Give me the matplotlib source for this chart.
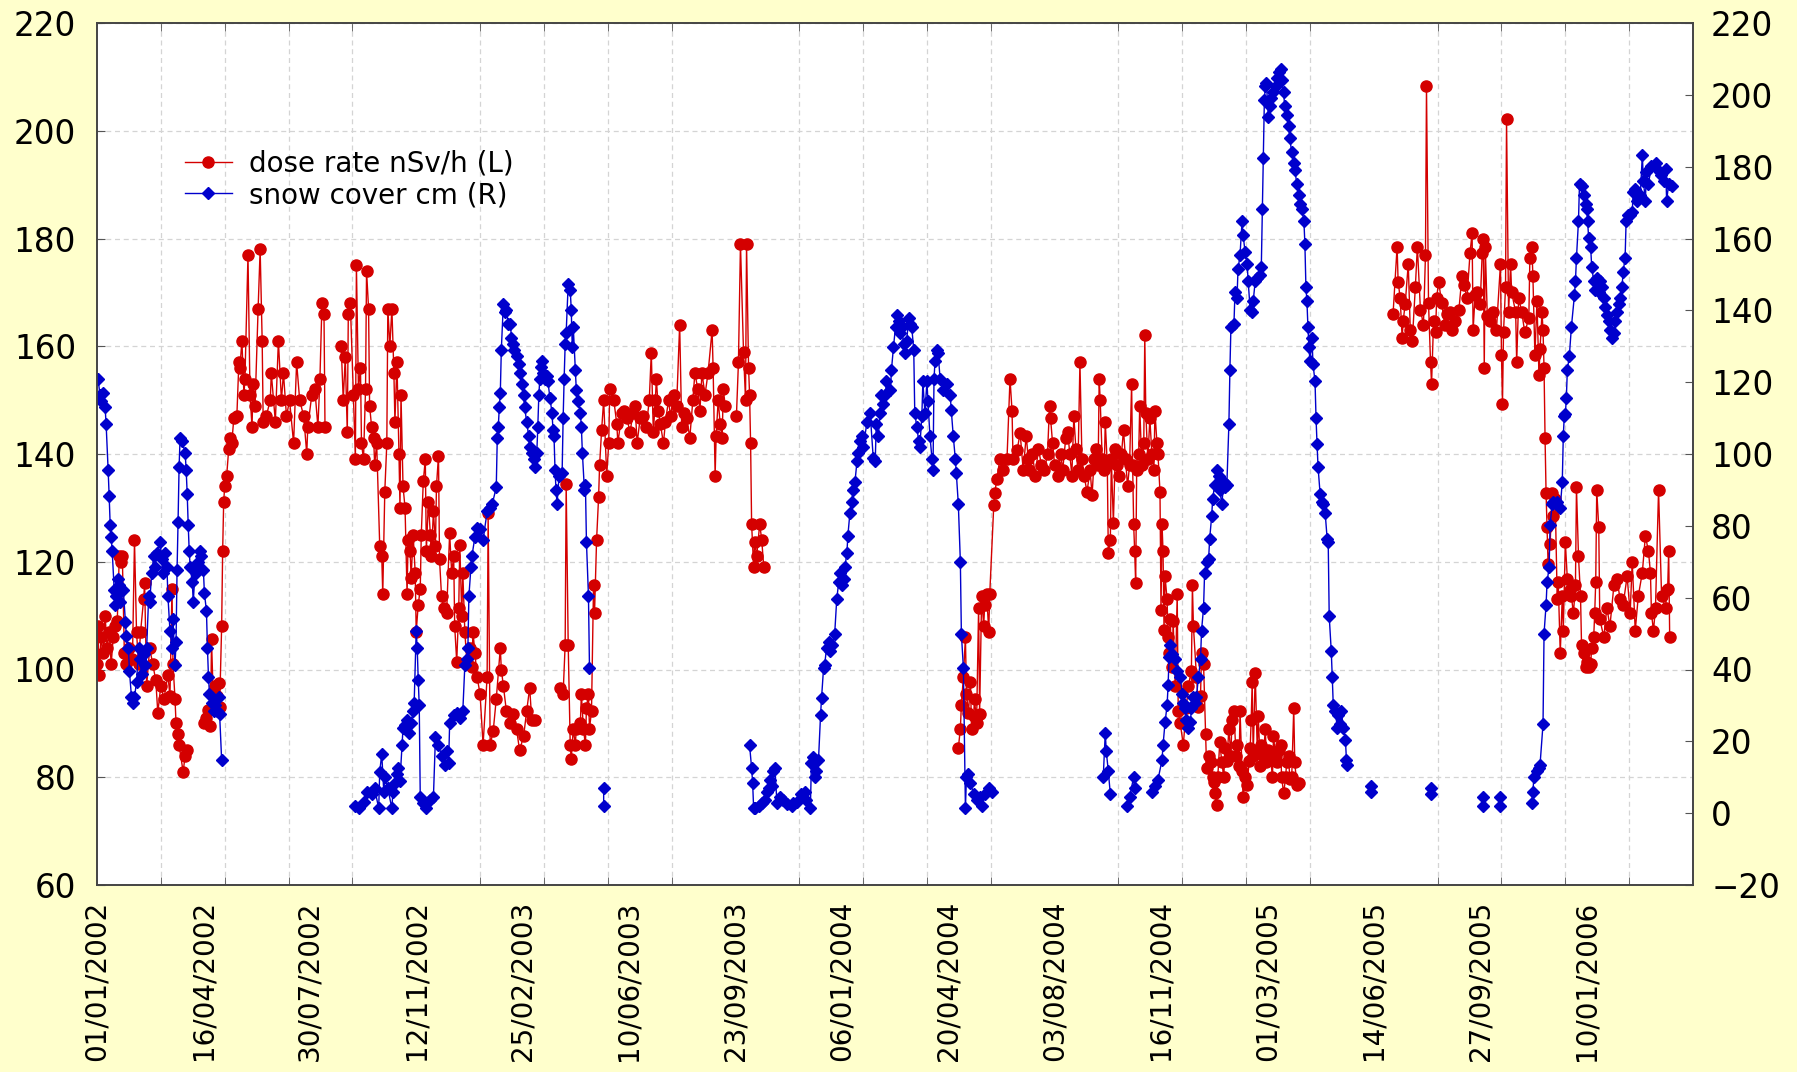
import numpy as np
import matplotlib
matplotlib.use("Agg")
import matplotlib.pyplot as plt
from matplotlib.ticker import FixedLocator

# x values are days counted from 01/01/2002
x_labels = ['01/01/2002', '16/04/2002', '30/07/2002', '12/11/2002', '25/02/2003',
            '10/06/2003', '23/09/2003', '06/01/2004', '20/04/2004', '03/08/2004',
            '16/11/2004', '01/03/2005', '14/06/2005', '27/09/2005', '10/01/2006']
x_label_step = 105
x_grid_step = 63
x_end = 1575

# dose rate nSv/h (left axis), (day, value)
dose_2002a = [(0, 101), (1, 108), (2, 99), (4, 106), (6, 103), (8, 110), (10, 104), (12, 107),
              (14, 101), (16, 106), (18, 108), (20, 109), (22, 121), (24, 120), (25, 121), (27, 103),
              (29, 101), (32, 104), (35, 102), (37, 124), (39, 107), (41, 101), (43, 107), (46, 113),
              (47, 116), (49, 97), (52, 104), (55, 101), (58, 98), (60, 92), (63, 97), (66, 94.5),
              (70, 99), (72, 95), (74, 115), (75, 101), (77, 94.5), (78, 90), (80, 88), (81, 86),
              (85, 81), (87, 84), (89, 85)]
dose_2002b = [(106, 90), (108, 91), (110, 92.5), (112, 89.5), (113, 105.6), (115, 93), (116, 97),
              (118, 95), (120, 97.5), (121, 93), (123, 108), (124, 122), (125, 131), (126, 134),
              (128, 136), (130, 141), (131, 143), (133, 142), (135, 146.6), (138, 147), (140, 157),
              (141, 156), (143, 161), (145, 151), (146, 154), (149, 177), (151, 151), (153, 145),
              (154, 153), (156, 149), (159, 167), (161, 178), (163, 161), (164, 146), (167, 147),
              (171, 150), (172, 155), (176, 146), (179, 161), (182, 150), (184, 155), (187, 147),
              (190, 150), (194, 142), (197, 157), (200, 150), (204, 147), (207, 140), (208, 145),
              (212, 151), (215, 152), (218, 145), (220, 154), (222, 168), (224, 166), (225, 145)]
dose_2002c = [(241, 160), (243, 150), (245, 158), (247, 144), (248, 166), (250, 168), (253, 151),
              (255, 139), (256, 175), (258, 152), (260, 156), (261, 142), (263, 139), (265, 152),
              (266, 174), (268, 167), (269, 149), (271, 145), (273, 143), (274, 138), (276, 142),
              (279, 123), (281, 121), (282, 114), (284, 133), (286, 142), (287, 167), (289, 160),
              (291, 167), (293, 155), (294, 146), (296, 157), (298, 140), (299, 130), (300, 151),
              (302, 134), (304, 130), (306, 114), (307, 124), (309, 122), (310, 117), (312, 125),
              (314, 118), (315, 107), (317, 112), (319, 115), (320, 125), (322, 135), (324, 139),
              (325, 122), (327, 131), (329, 125), (330, 121), (332, 129.5), (334, 123), (335, 134),
              (337, 139.7), (338, 120.5), (340, 113.6), (342, 111.5), (345, 110.4), (348, 125.3),
              (350, 118), (352, 121), (353, 108), (355, 101.4), (357, 111.5), (358, 123.2),
              (360, 110), (361, 118), (363, 107), (365, 101.4), (368, 104), (370, 100.4), (371, 107),
              (373, 103), (375, 98.7), (378, 95.5), (381, 86), (385, 98.7), (386, 129), (388, 86),
              (391, 88.6), (394, 94.5), (398, 104), (399, 100), (401, 97), (404, 92.3), (408, 90),
              (411, 91.8), (414, 89), (417, 85), (421, 87.6), (424, 92.3), (427, 96.6), (429, 90.7),
              (432, 90.7)]
dose_2003a = [(457, 96.6), (460, 95.5), (462, 104.6), (463, 134.4), (465, 104.6), (467, 86),
              (468, 83.4), (470, 89), (472, 86), (473, 89), (477, 90), (478, 95.5), (480, 89),
              (482, 86), (483, 92.9), (485, 95.5), (486, 89), (488, 92.3), (490, 115.7), (491, 110.5),
              (493, 124), (495, 132), (496, 138), (498, 144.5), (500, 150), (503, 136), (505, 142),
              (506, 152), (510, 150), (513, 145.5), (514, 142), (518, 147.7), (520, 148), (523, 146.6),
              (526, 144), (529, 147.7), (531, 149), (533, 142), (536, 146.6), (539, 147), (542, 145),
              (545, 150), (547, 158.8), (549, 144), (551, 150), (552, 154), (554, 148), (556, 145.5),
              (559, 142), (561, 146), (564, 150), (566, 147), (569, 151), (572, 149), (575, 164),
              (577, 145), (579, 147.7), (582, 146.6), (585, 143), (588, 150), (590, 155), (593, 152),
              (595, 148), (597, 155), (600, 151), (603, 155), (607, 163), (608, 156), (610, 136),
              (611, 143.4), (613, 150), (615, 145.5), (617, 143), (618, 152), (620, 149)]
dose_2003b = [(631, 147), (633, 157), (635, 179), (638, 159), (640, 150), (641, 179), (643, 156),
              (644, 151), (645, 142), (646, 127), (648, 119), (649, 123.7), (651, 121), (654, 127),
              (656, 124), (658, 119)]
dose_2004 = [(850, 85.4), (852, 89), (853, 93.4), (855, 98.7), (857, 106), (858, 95.5), (860, 92),
             (862, 97.7), (863, 89), (865, 91.3), (866, 94.5), (868, 90), (870, 111.5), (871, 91.8),
             (873, 113.6), (875, 108), (876, 112), (878, 114), (880, 107), (881, 114), (885, 130.6),
             (886, 132.8), (888, 135.4), (891, 139), (894, 137), (898, 139), (901, 154), (903, 148),
             (904, 139), (908, 140.7), (911, 143.9), (914, 137), (917, 143.4), (919, 139), (920, 137),
             (923, 140), (926, 136), (929, 141), (932, 138), (935, 137), (938, 140), (940, 149),
             (941, 146.6), (943, 142), (945, 138), (948, 136), (951, 140), (953, 137), (956, 143),
             (958, 144), (960, 140), (962, 136), (964, 147), (966, 141), (968, 137), (970, 157),
             (972, 139), (974, 136), (977, 133), (980, 137), (982, 132.3), (984, 139), (986, 141),
             (988, 138), (989, 154), (990, 150), (992, 139), (994, 137), (995, 146), (997, 138),
             (998, 121.6), (1000, 124), (1001, 139), (1003, 127.2), (1005, 141), (1007, 138),
             (1009, 136), (1011, 140), (1013, 144.5), (1015, 139), (1017, 134), (1019, 138),
             (1021, 153), (1022, 138), (1023, 127), (1024, 122), (1025, 116), (1026, 137),
             (1028, 140), (1029, 149), (1031, 138), (1033, 142), (1034, 162), (1035, 147.7),
             (1037, 139), (1039, 146.6), (1041, 140), (1043, 137), (1044, 148), (1046, 142),
             (1047, 140), (1049, 133), (1050, 111), (1051, 127), (1052, 122), (1053, 107.3),
             (1054, 117.3), (1056, 113), (1057, 106), (1058, 103), (1059, 109.4), (1061, 100.4),
             (1062, 109), (1064, 97), (1066, 114), (1067, 92.3), (1069, 90), (1072, 86), (1075, 92.9),
             (1077, 97), (1080, 99.8), (1081, 115.7), (1082, 108), (1085, 98.7), (1087, 93),
             (1089, 95), (1090, 103), (1092, 101), (1094, 88), (1095, 81.7), (1097, 84), (1099, 82.8),
             (1101, 80), (1102, 79.1), (1103, 77), (1105, 74.8), (1106, 80), (1108, 86.5),
             (1110, 82.8), (1112, 80), (1113, 85.4), (1115, 83), (1117, 89), (1119, 84), (1120, 90.7),
             (1122, 92.3), (1124, 84), (1125, 86), (1127, 82), (1128, 92.3), (1130, 81.2),
             (1131, 76.4), (1133, 80), (1135, 78.5), (1137, 83), (1138, 85.4), (1139, 90.7),
             (1140, 97.7), (1141, 84), (1143, 99.3), (1145, 85), (1146, 91.3), (1148, 82), (1149, 86),
             (1151, 84), (1153, 89), (1154, 82.8), (1156, 85), (1158, 83.8), (1160, 80), (1161, 87.6),
             (1163, 84), (1164, 82.8), (1166, 85), (1168, 86), (1169, 80.1), (1171, 77), (1173, 80),
             (1174, 82.8), (1176, 84), (1177, 79.6), (1179, 80), (1181, 92.9), (1182, 82.8),
             (1184, 78.5), (1186, 79)]
dose_2005 = [(1279, 166), (1283, 178.5), (1284, 172), (1286, 169), (1288, 161.5), (1289, 164.7),
             (1291, 167.9), (1294, 175.3), (1296, 163), (1298, 161), (1301, 171), (1303, 178.5),
             (1306, 166.8), (1309, 164), (1311, 177), (1312, 208.3), (1314, 168), (1316, 157),
             (1317, 153), (1319, 164.7), (1321, 162.6), (1322, 169), (1324, 172), (1327, 168),
             (1330, 164), (1332, 166), (1335, 166.3), (1337, 163), (1340, 164.7), (1344, 166.8),
             (1347, 173), (1349, 171.3), (1352, 169), (1355, 177.4), (1357, 181), (1358, 163),
             (1360, 169.5), (1362, 170), (1365, 167.9), (1367, 177.4), (1368, 180), (1369, 156),
             (1370, 178.5), (1372, 165.7), (1375, 164.7), (1378, 166.3), (1381, 163), (1385, 175.3),
             (1386, 158.3), (1387, 149.3), (1388, 162.6), (1390, 171), (1391, 202.1), (1393, 166.3),
             (1395, 175.3), (1396, 170), (1400, 166.3), (1401, 157), (1403, 169), (1406, 166.3),
             (1409, 162.6), (1413, 165.2), (1414, 176.4), (1416, 178.5), (1417, 173), (1419, 158.3),
             (1421, 168.4), (1423, 154.6), (1424, 159.4), (1426, 166.3), (1427, 163), (1428, 156),
             (1429, 143), (1430, 132.8), (1431, 126.4), (1432, 119.5), (1434, 123.3), (1436, 132.8),
             (1437, 128.5), (1439, 131.7), (1441, 113.1), (1442, 116.3), (1444, 103), (1446, 113.6),
             (1447, 107.2), (1449, 123.7), (1451, 116.8), (1454, 114.7), (1455, 113.6), (1457, 110.4),
             (1459, 115.7), (1460, 133.8), (1462, 121), (1464, 113.6), (1465, 104.6), (1467, 103),
             (1469, 100.4), (1470, 101.4), (1472, 100.4), (1474, 101), (1475, 104), (1477, 106),
             (1478, 110.4), (1479, 116.3), (1480, 133.3), (1482, 126.4), (1483, 109.4), (1487, 106),
             (1490, 111.5), (1493, 108), (1497, 115.7), (1500, 116.8), (1503, 113.1), (1506, 112),
             (1510, 117.3), (1513, 110.4), (1515, 120), (1518, 107.2), (1521, 113.6), (1525, 118),
             (1528, 124.8), (1531, 122), (1533, 118), (1534, 110.4), (1536, 107.2), (1538, 111.5),
             (1541, 133.3), (1544, 113.6), (1548, 111.5), (1549, 114.7), (1550, 115), (1551, 122),
             (1552, 106)]

# snow cover cm (right axis), (day, value)
snow_2002a = [(1, 121), (3, 116.3), (4, 114.7), (6, 117), (8, 113), (9, 108.3), (11, 95.5), (12, 88.3),
              (13, 80.3), (14, 77), (15, 73), (17, 62), (18, 58), (19, 60.4), (21, 65.2), (22, 63.6),
              (23, 58.8), (26, 62), (28, 53.2), (29, 49.2), (31, 46), (32, 39.6), (34, 32.4),
              (36, 30.8), (37, 32.4), (39, 36.4), (41, 46), (42, 42.8), (44, 38.8), (46, 44.4),
              (47, 41.2), (49, 46), (51, 60.4), (52, 58.8), (54, 66.8), (56, 71.6), (57, 68.4),
              (59, 72.4), (62, 75.6), (64, 70.8), (65, 66.8), (67, 72.4), (69, 68.4), (70, 60.4),
              (72, 50.8), (74, 46), (75, 54), (77, 41.2), (78, 47.6), (79, 67.6), (80, 81.2),
              (81, 96.4), (82, 104.4), (84, 103.6), (87, 100.3), (88, 95.5), (89, 89), (90, 80.3),
              (91, 73), (92, 68.4), (94, 64.4), (95, 58.8), (97, 68.4), (98, 66.8), (100, 70),
              (102, 73), (103, 71.6), (105, 67.6), (106, 61.2), (108, 56.4), (109, 46), (110, 38),
              (111, 33.2), (113, 30.8), (115, 28.4), (116, 30), (118, 28.4), (120, 32.4), (121, 27.6),
              (123, 14.8)]
snow_2003 = [(255, 2), (259, 1.3), (263, 3), (266, 6), (271, 5.3), (274, 6.9), (278, 1.3), (279, 11.6),
             (281, 16.4), (283, 6), (284, 10), (287, 6.9), (291, 1.3), (292, 6), (294, 8.5), (296, 10.9),
             (297, 12.5), (299, 9), (301, 18.9), (302, 23.7), (304, 24.5), (306, 26), (308, 22.4),
             (310, 25), (312, 28.4), (313, 30.8), (315, 50.8), (316, 46), (317, 37.2), (318, 30),
             (319, 4.5), (322, 2.9), (325, 1.3), (329, 3.7), (332, 4.5), (334, 21.3), (337, 18.9),
             (340, 16), (343, 13.3), (345, 17.2), (347, 14), (348, 25), (352, 27.2), (355, 28),
             (358, 26.4), (361, 28.4), (363, 41.2), (365, 43), (366, 46), (367, 60.4), (369, 68.4),
             (370, 71.6), (373, 77), (375, 79.5), (378, 79), (381, 76), (385, 84), (388, 85), (390, 86),
             (394, 90.7), (395, 104.4), (396, 107.5), (397, 113), (398, 117), (399, 129), (401, 141.8),
             (403, 139.4), (404, 140.2), (406, 136.2), (408, 136.2), (409, 132.2), (411, 130.6),
             (412, 129), (414, 127.4), (416, 125), (417, 122.6), (419, 119.4), (421, 116.3), (422, 113),
             (424, 109), (426, 105), (427, 101.9), (429, 100.3), (431, 98.7), (432, 96.3), (434, 100.3),
             (435, 107.5), (436, 116.3), (437, 121), (438, 124.2), (439, 125.8), (440, 122.6),
             (442, 121), (444, 121.8), (445, 120.2), (447, 115.5), (449, 111.5), (450, 106.7),
             (451, 105), (452, 95.5), (453, 90), (454, 86), (456, 94), (459, 94.7), (460, 109.9),
             (461, 121), (462, 130.6), (463, 133.8), (465, 147.4), (467, 145.8), (468, 140.2),
             (469, 129.8), (470, 135.4), (472, 123.4), (473, 117.8), (475, 114.7), (477, 111.5),
             (478, 107.5), (479, 100.3), (481, 90), (482, 91.5), (483, 75.6), (485, 60.4), (486, 40.4)]
snow_may03 = [(500, 7), (500, 2)]
snow_2004 = [(644, 18.9), (646, 12.5), (647, 8.5), (648, 1.3), (649, 1.3), (653, 2), (656, 2.9),
             (659, 3.7), (661, 6), (663, 6.9), (664, 9.3), (666, 7.7), (667, 11.7), (669, 12.5),
             (671, 2.9), (674, 4.5), (677, 3.7), (681, 2.5), (686, 2), (687, 2.9), (691, 3), (695, 5.3),
             (699, 6), (700, 3.7), (704, 1.3), (705, 14), (707, 15.6), (709, 10), (710, 11.7),
             (712, 14.8), (714, 27.2), (715, 32), (717, 40.4), (718, 41.2), (720, 46), (722, 47.6),
             (723, 45.2), (725, 46.8), (728, 50), (730, 59.6), (732, 64.4), (733, 66.8), (735, 63.6),
             (737, 65.2), (738, 68.4), (740, 72.4), (741, 77.3), (743, 83.6), (745, 86.7), (746, 90),
             (748, 92.3), (750, 98), (751, 100.3), (753, 103.5), (755, 105), (756, 101.9), (760, 109),
             (763, 111.5), (766, 99), (768, 98), (769, 108.3), (771, 105), (773, 111.5), (774, 116.3),
             (776, 114), (778, 116.3), (779, 120.2), (783, 117.8), (784, 123.4), (786, 129.8),
             (788, 135.4), (789, 138.6), (791, 137), (792, 133.8), (794, 135.4), (796, 130.6),
             (797, 128.2), (799, 131.4), (801, 137.8), (802, 136.2), (804, 135.4), (806, 129),
             (807, 111.5), (809, 107.5), (811, 103.5), (812, 101.9), (814, 110.7), (815, 120.2),
             (817, 111.5), (819, 120.2), (820, 114.7), (822, 105), (824, 98.7), (825, 95.5), (826, 121),
             (827, 125.8), (829, 129), (830, 128.2), (832, 121), (835, 117.8), (839, 119.4),
             (842, 116.3), (843, 112.3), (845, 105), (847, 98.7), (848, 94.7), (850, 86), (852, 70),
             (853, 50), (855, 40.4), (857, 1.3), (858, 10), (860, 11), (862, 8.5), (865, 5.3),
             (868, 3.7), (871, 4.5), (873, 2), (876, 5.3), (880, 6.9), (883, 6)]
snow_autumn04 = [(993, 10), (995, 22.4), (996, 17.2), (998, 11.7), (1000, 5.3),
                 (1016, 2), (1019, 4.5), (1023, 10), (1024, 6.9)]
snow_2005 = [(1041, 6), (1044, 7.7), (1047, 9.3), (1051, 14.8), (1052, 18.9), (1054, 25.3), (1056, 30),
             (1057, 35.6), (1058, 43.6), (1059, 46.8), (1061, 44.4), (1064, 42.8), (1066, 39.6),
             (1069, 38), (1071, 33.2), (1072, 30.8), (1074, 29.2), (1075, 26), (1077, 23.7),
             (1079, 25.3), (1080, 29.2), (1082, 32.4), (1084, 30.8), (1085, 32.4), (1087, 38),
             (1089, 42.8), (1090, 50.8), (1092, 57.2), (1093, 66.8), (1095, 70), (1097, 70.8),
             (1098, 76.3), (1100, 82.7), (1101, 87.5), (1103, 91.5), (1105, 95.5), (1107, 93.9),
             (1108, 90), (1110, 86), (1112, 92.3), (1113, 90.7), (1115, 91.5), (1117, 108.3),
             (1118, 123.4), (1119, 135.4), (1122, 136.2), (1123, 145), (1125, 143.4), (1126, 151.4),
             (1128, 155.4), (1130, 165), (1131, 161), (1133, 156.2), (1135, 153), (1136, 148.2),
             (1138, 140.2), (1140, 139.4), (1141, 142.6), (1143, 148.2), (1145, 149), (1148, 149.8),
             (1149, 152.2), (1150, 168.1), (1151, 182.5), (1152, 198.5), (1153, 202.4), (1154, 203.2),
             (1156, 193.7), (1158, 196.9), (1159, 199.2), (1161, 200.8), (1163, 202.4), (1164, 204.8),
             (1166, 206.4), (1168, 207.2), (1169, 204), (1171, 200.8), (1172, 196.9), (1174, 194.5),
             (1176, 191.3), (1177, 188), (1179, 184), (1181, 181), (1182, 179.2), (1184, 175.3),
             (1186, 172.1), (1187, 169.7), (1189, 168.1), (1191, 165), (1192, 158.5), (1193, 146.6),
             (1194, 142.6), (1195, 135.4), (1196, 129.8), (1197, 125.8), (1199, 132.2), (1200, 125),
             (1202, 120.2), (1203, 109.9), (1204, 102.7), (1205, 96.3), (1207, 89), (1209, 86.7),
             (1210, 86), (1212, 83.6), (1214, 76.3), (1215, 75.6), (1216, 54.8), (1218, 45.2),
             (1219, 38), (1220, 30), (1222, 28.4), (1224, 23.7), (1225, 27.2), (1227, 24.8),
             (1228, 28.4), (1230, 23.7), (1232, 20.4), (1233, 14.8), (1234, 13.3)]
snow_summer05 = [(1257, 7.7), (1257, 6), (1316, 6.9), (1316, 5.3), (1368, 4.5), (1368, 2),
                 (1385, 4.5), (1385, 2)]
snow_2006 = [(1416, 2.9), (1417, 6), (1418, 10), (1421, 11.7), (1423, 12.5), (1424, 13.3), (1427, 24.8),
             (1428, 50), (1430, 58), (1431, 64.4), (1433, 68.4), (1434, 80.3), (1436, 86), (1437, 86.7),
             (1441, 86.7), (1444, 85), (1446, 92.3), (1447, 105), (1448, 110.7), (1449, 111),
             (1450, 115.5), (1451, 123.4), (1453, 127.4), (1455, 135.4), (1458, 144.2), (1459, 148.2),
             (1460, 154.6), (1462, 165), (1463, 175.3), (1465, 174.5), (1467, 172.1), (1469, 169.7),
             (1470, 168.1), (1471, 165), (1472, 160.1), (1474, 157.7), (1475, 152.2), (1477, 148.2),
             (1478, 145.8), (1480, 149), (1482, 145), (1483, 148.2), (1485, 146.6), (1487, 143.4),
             (1488, 141), (1490, 138.6), (1492, 137), (1493, 134.6), (1495, 132.2), (1497, 133.8),
             (1498, 137), (1500, 139.4), (1502, 141.8), (1503, 143.4), (1505, 146.6), (1506, 150.6),
             (1508, 154.6), (1509, 165), (1511, 166.5), (1513, 166.5), (1515, 167.3), (1516, 172.9),
             (1518, 173.7), (1520, 170.5), (1523, 172.1), (1525, 183.3), (1526, 176.1), (1528, 170.5),
             (1529, 178.5), (1531, 175.3), (1534, 180.1), (1538, 180.9), (1539, 179.3), (1543, 177.7),
             (1546, 176.1), (1548, 179.3), (1549, 170.5), (1551, 175.3), (1554, 174.5)]


def join(parts, maxgap=7):
    # break the line wherever consecutive readings are more than maxgap days apart
    d = np.array([p[0] for seg in parts for p in seg], float)
    v = np.array([p[1] for seg in parts for p in seg], float)
    idx = np.where(np.diff(d) > maxgap)[0] + 1
    return np.insert(d, idx, np.nan), np.insert(v, idx, np.nan)


dose_x, dose_y = join([dose_2002a, dose_2002b, dose_2002c, dose_2003a, dose_2003b, dose_2004, dose_2005])
snow_x, snow_y = join([snow_2002a, snow_2003, snow_may03, snow_2004, snow_autumn04, snow_2005,
                       snow_summer05, snow_2006])

red = '#d40000'
blue = '#0000cc'
bg = '#ffffcc'

fig = plt.figure(figsize=(17.97, 10.72), dpi=100, facecolor=bg)
ax = fig.add_axes([97 / 1797, 1 - 885 / 1072, 1596 / 1797, 862 / 1072])
ax.set_facecolor('white')
ax2 = ax.twinx()

l1, = ax.plot(dose_x, dose_y, color=red, lw=1.0, marker='o', ms=8, mec=red, mfc=red,
              label='dose rate nSv/h (L)')
l2, = ax2.plot(snow_x, snow_y, color=blue, lw=1.0, marker='D', ms=6, mec=blue, mfc=blue,
               label='snow cover cm (R)')

ax.set_xlim(0, x_end)
ax.set_ylim(60, 220)
ax2.set_ylim(-20, 220)
ax.set_yticks(np.arange(60, 221, 20))
ax2.set_yticks(np.arange(-20, 221, 20))

ax.set_xticks(np.arange(len(x_labels)) * x_label_step)
ax.set_xticklabels(x_labels, rotation=90, fontsize=20)
ax.xaxis.set_minor_locator(FixedLocator(np.arange(x_grid_step, x_end, x_grid_step)))
ax.tick_params(axis='x', which='major', length=0, pad=11)
ax.tick_params(axis='x', which='minor', direction='in', length=6, top=True, bottom=True,
               color='#555555')
ax.tick_params(axis='y', direction='in', length=6, labelsize=23.5, pad=15, color='#555555')
ax2.tick_params(axis='y', direction='in', length=6, labelsize=23.5, pad=13, color='#555555')

ax.grid(True, which='minor', axis='x', color='#d4d4d4', ls=(0, (4, 3)), lw=0.9)
ax.grid(True, which='major', axis='y', color='#d4d4d4', ls=(0, (4, 3)), lw=0.9)
ax.set_axisbelow(True)

for a in (ax, ax2):
    for s in a.spines.values():
        s.set_color('#444444')
        s.set_linewidth(1.2)

ax2.legend(handles=[l1, l2], loc='upper left', bbox_to_anchor=(0.055, 0.853), frameon=False,
           fontsize=20, handlelength=1.7, handletextpad=0.6, labelspacing=0.12,
           borderpad=0, borderaxespad=0, numpoints=1)

fig.savefig('out.png', dpi=100, facecolor=bg)
